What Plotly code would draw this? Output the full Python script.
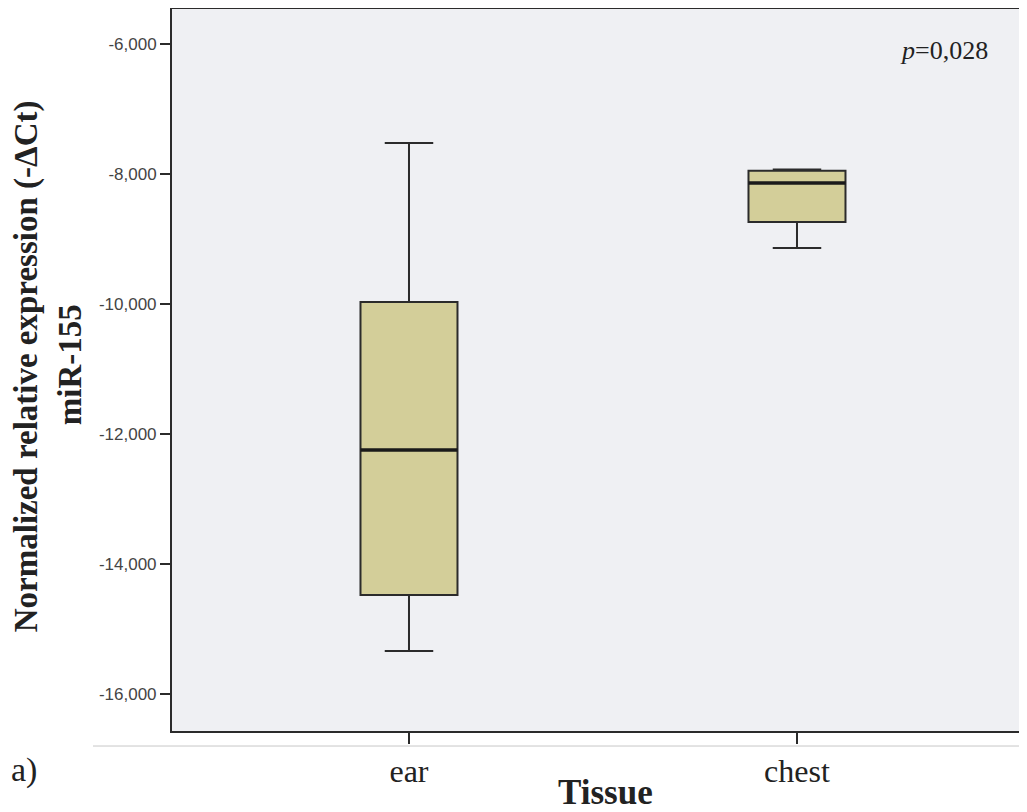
import plotly.graph_objects as go

categories = ["ear", "chest"]
cat_pos = [0, 1]
upper_fence = [-7523, -7930]
q3 = [-9970, -7950]
median = [-12246, -8138]
q1 = [-14477, -8738]
lower_fence = [-15338, -9138]

y_ticks = [-16000, -14000, -12000, -10000, -8000, -6000]
y_tick_labels = ["-16,000", "-14,000", "-12,000", "-10,000", "-8,000", "-6,000"]

BOX_W = 0.25

fig = go.Figure()
fig.add_trace(go.Box(
    x=cat_pos, q1=q1, median=median, q3=q3,
    lowerfence=lower_fence, upperfence=upper_fence,
    width=BOX_W, whiskerwidth=0.5,
    fillcolor="rgb(211,206,153)",
    line=dict(color="#2b2b2b", width=2),
    boxpoints=False, showlegend=False, hoverinfo="skip",
))
# thicker median lines, as in the reference
for p, m in zip(cat_pos, median):
    fig.add_trace(go.Scatter(
        x=[p - BOX_W / 2, p + BOX_W / 2], y=[m, m], mode="lines",
        line=dict(color="#1a1a1a", width=3.5),
        showlegend=False, hoverinfo="skip",
    ))

fig.update_layout(
    width=1019, height=804,
    margin=dict(l=164, r=0, t=1, b=81),
    paper_bgcolor="white",
    plot_bgcolor="rgb(239,240,243)",
    showlegend=False,
    xaxis=dict(
        range=[-0.6108, 1.5928], tickvals=cat_pos, ticktext=categories,
        showgrid=False, zeroline=False, showline=True, mirror=True,
        linecolor="#2b2b2b", linewidth=2,
        ticks="outside", ticklen=11, tickwidth=2, tickcolor="#2b2b2b",
        tickfont=dict(family="Liberation Serif", size=32, color="#222"),
    ),
    yaxis=dict(
        range=[-16569, -5461.5], tickvals=y_ticks, ticktext=y_tick_labels,
        showgrid=False, zeroline=False, showline=True,
        linecolor="#2b2b2b", linewidth=2,
        ticks="outside", ticklen=10, tickwidth=2, tickcolor="#2b2b2b",
        tickfont=dict(family="Liberation Sans", size=17, color="#444"),
    ),
    shapes=[dict(type="line", xref="paper", yref="paper",
                 x0=-0.0924, x1=1, y0=-0.0208, y1=-0.0208,
                 line=dict(color="#c8c8c8", width=1))],
)

serif = "Liberation Serif"
fig.add_annotation(text="<b>Normalized relative expression (-ΔCt)</b>", xref="paper", yref="paper",
                   x=-0.1705, y=0.5055, textangle=-90, showarrow=False,
                   xanchor="center", yanchor="middle",
                   font=dict(family=serif, size=33, color="#222"))
fig.add_annotation(text="<b>miR-155</b>", xref="paper", yref="paper",
                   x=-0.1193, y=0.508, textangle=-90, showarrow=False,
                   xanchor="center", yanchor="middle",
                   font=dict(family=serif, size=33, color="#222"))
fig.add_annotation(text="<b>Tissue</b>", xref="paper", yref="paper",
                   x=0.5076, y=-0.0845, showarrow=False,
                   xanchor="center", yanchor="middle",
                   font=dict(family=serif, size=35, color="#222"))
fig.add_annotation(text="a)", xref="paper", yref="paper",
                   x=-0.1731, y=-0.054, showarrow=False,
                   xanchor="center", yanchor="middle",
                   font=dict(family=serif, size=34, color="#222"))
fig.add_annotation(text="<i>p</i>=0,028", xref="paper", yref="paper",
                   x=0.903, y=0.943, showarrow=False,
                   xanchor="center", yanchor="middle",
                   font=dict(family=serif, size=26, color="#222"))

fig.write_html("out.html")
